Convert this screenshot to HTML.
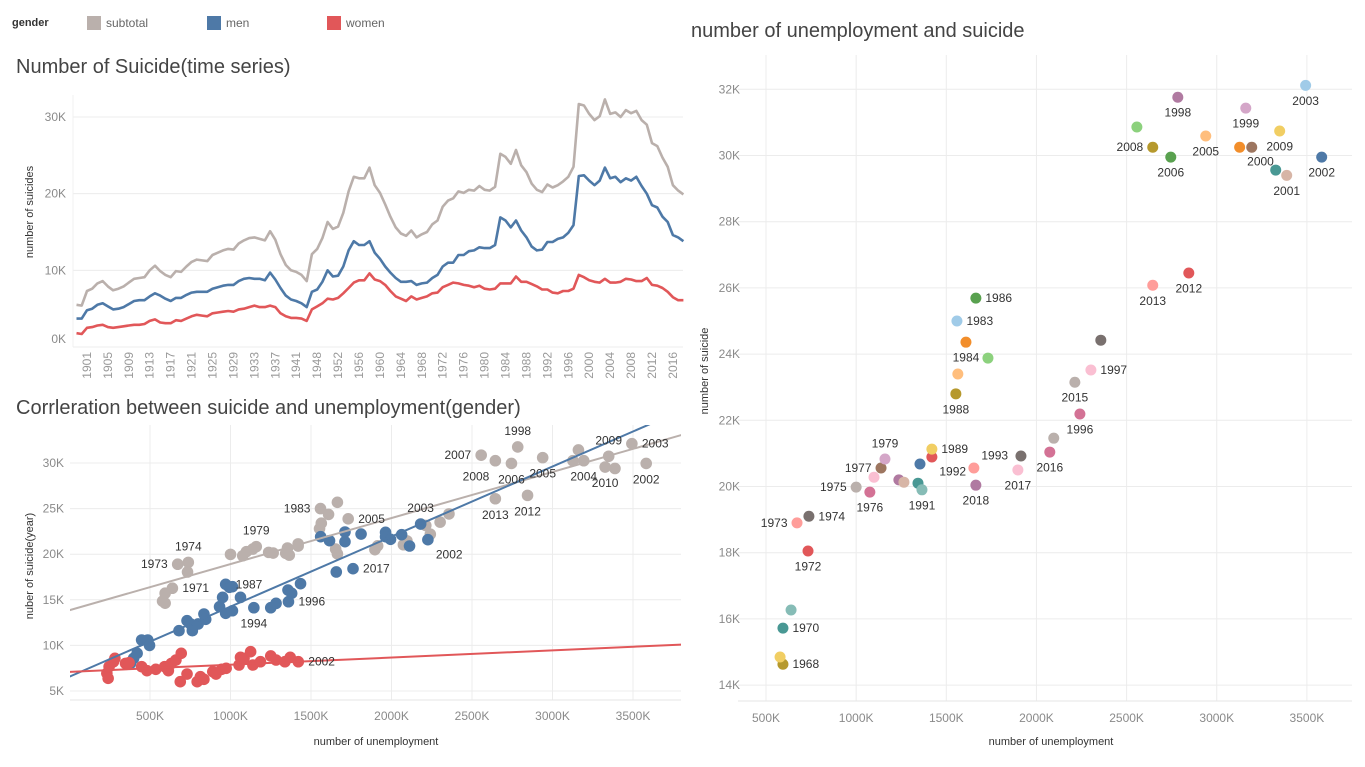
<!DOCTYPE html>
<html><head><meta charset="utf-8">
<style>
html,body{margin:0;padding:0;background:#fff;}
svg{display:block;font-family:"Liberation Sans",sans-serif;}
.tick{fill:#8a8a8a;font-size:11px;}
.grid{stroke:#ececec;stroke-width:1;}
.ttl{fill:#444;font-size:20px;}
.axt{fill:#333;font-size:11px;}
.lbl{fill:#333;font-size:12px;}
</style></head>
<body>
<svg id="root" width="1365" height="767" viewBox="0 0 1365 767">
  <g>
    <text x="12" y="26" style="font-size:11px;font-weight:bold;fill:#333">gender</text>
    <rect x="87" y="16" width="14" height="14" fill="#bab0ac"/>
    <text x="106" y="27" style="font-size:12px;fill:#666">subtotal</text>
    <rect x="207" y="16" width="14" height="14" fill="#4e79a7"/>
    <text x="226" y="27" style="font-size:12px;fill:#666">men</text>
    <rect x="327" y="16" width="14" height="14" fill="#e15759"/>
    <text x="346" y="27" style="font-size:12px;fill:#666">women</text>
  </g>
  <text class="ttl" x="16" y="73">Number of Suicide(time series)</text>
  <text class="ttl" x="16" y="414">Corrleration between suicide and unemployment(gender)</text>
  <text class="ttl" x="691" y="37">number of unemployment and suicide</text>
  <text class="axt" transform="translate(33,212) rotate(-90)" text-anchor="middle">number of suicides</text>
  <text class="axt" transform="translate(33,566) rotate(-90)" text-anchor="middle">nuber of suicide(year)</text>
  <text class="axt" x="376" y="745" text-anchor="middle">number of unemployment</text>
  <text class="axt" transform="translate(708,371) rotate(-90)" text-anchor="middle">number of suicide</text>
  <text class="axt" x="1051" y="745" text-anchor="middle">number of unemployment</text>
  <g id="ts"></g>
  <g id="corr"></g>
  <g id="sc"></g>
</svg>
<script>
// ---------- time series data ----------
const tsYears = [1899,1900,1901,1902,1903,1904,1905,1906,1907,1908,1909,1910,1911,1912,1913,1914,1915,1916,1917,1918,1919,1920,1921,1922,1923,1924,1925,1926,1927,1928,1929,1930,1931,1932,1933,1934,1935,1936,1937,1938,1939,1940,1941,1942,1943,
1947,1948,1949,1950,1951,1952,1953,1954,1955,1956,1957,1958,1959,1960,1961,1962,1963,1964,1965,1966,1967,1968,1969,1970,1971,1972,1973,1974,1975,1976,1977,1978,1979,1980,1981,1982,1983,1984,1985,1986,1987,1988,1989,1990,1991,1992,1993,1994,1995,1996,1997,1998,1999,2000,2001,2002,2003,2004,2005,2006,2007,2008,2009,2010,2011,2012,2013,2014,2015,2016,2017,2018];
const tsMen = [3.7,3.7,4.8,5.0,5.5,5.7,5.3,4.9,5.0,5.2, 5.6,6.0,6.1,6.1,6.6,7.0,6.7,6.3,6.0,6.4, 6.4,6.8,7.1,7.2,7.2,7.2,7.6,7.8,8.0,8.1, 8.1,8.6,8.9,9.0,8.9,8.9,8.7,9.7,8.8,7.7, 6.7,6.2,6.0,5.7,5.2,
7.2,7.5,8.5,10.0,9.2,9.3,10.5,12.6,13.8,13.3, 13.3,13.8,12.3,11.5,10.5,9.7,9.0,8.5,8.5,8.6, 8.1,8.3,8.4,9.0,9.4,10.5,11.0,11.0,12.0,12.0, 12.5,12.6,13.0,12.9,12.9,13.3,16.9,16.5,15.6,16.5, 15.2,14.3,13.1,12.6,12.7,13.7,13.7,14.1,14.3,14.9, 15.9,22.3,22.4,21.7,21.1,21.7,23.4,22.0,22.2,21.5, 22.0,21.7,22.2,21.0,20.0,18.5,18.2,17.0,16.3,14.6, 14.3,13.8];
const tsWomen = [1.8,1.7,2.5,2.6,2.8,2.9,2.6,2.5,2.6,2.7, 2.8,2.9,2.9,3.0,3.4,3.6,3.2,3.1,3.1,3.5, 3.4,3.7,4.0,4.2,4.1,4.0,4.4,4.5,4.6,4.7, 4.6,4.9,5.0,5.2,5.4,5.2,5.2,5.4,5.2,4.4, 4.0,3.8,3.8,3.7,3.4,
4.9,5.3,5.7,6.3,6.2,6.4,7.0,7.7,8.4,8.7, 8.7,9.6,8.8,8.6,8.1,7.3,6.6,6.3,6.0,6.6, 6.2,6.4,6.6,7.0,7.1,7.8,8.1,8.4,8.3,8.1, 8.0,7.8,8.0,7.6,7.5,7.6,8.3,8.3,8.3,9.2, 8.5,8.5,8.2,7.9,7.5,7.5,7.1,7.0,7.3,7.3, 7.6,9.4,9.1,8.7,8.5,8.4,8.9,8.4,8.4,8.5, 8.9,8.8,8.6,8.6,9.0,8.1,8.0,7.7,7.2,6.5, 6.1,6.1];
const tsTicks = [0,10,20,30];
const tsTickLabels = ["0K","10K","20K","30K"];

// ---------- correlation (gender) data: unemployment (K) and suicides (K) ----------
const menUnemp = [379,398,420,448,486,497,680,730,763,752,799,835,846,932,951,970,970,993,1012,1012,1062,1145,1250,1283,1357,1380,1360,1435,1560,1615,1657,1711,1711,1761,1811,1963,1963,1994,2063,2112,2181,2226];
const menSuic = [8.03,8.58,9.13,10.59,10.59,10.0,11.61,12.71,11.61,12.35,12.35,13.44,12.86,14.24,15.27,16.7,13.52,16.37,16.44,13.8,15.27,14.13,14.13,14.61,16.07,15.71,14.79,16.77,21.92,21.48,18.05,22.43,21.37,18.41,22.21,22.4,21.92,21.63,22.14,20.9,23.31,21.59];
const menLabels = [[15,"1987","r"],[26,"1996","r"],[21,"1994","b"],[33,"2017","r"],[40,"2003","a"],[41,"2002","br"]];
const womenUnemp = [232,240,246,273,282,348,370,448,481,536,591,614,633,661,694,688,730,793,813,835,890,910,945,973,1053,1062,1084,1125,1139,1186,1250,1283,1338,1371,1421];
const womenSuic = [6.94,6.39,7.67,8.21,8.58,8.03,8.1,7.67,7.23,7.38,7.67,7.23,8.03,8.4,9.13,6.02,6.86,6.02,6.57,6.28,7.12,6.86,7.38,7.49,7.85,8.69,8.58,9.31,7.85,8.21,8.84,8.4,8.21,8.69,8.21];
const womenLabels = [[34,"2002","r"]];

// ---------- subtotal (shared by both scatter charts) ----------
const subYears = [1968,1969,1970,1971,1972,1973,1974,1975,1976,1977,1978,1979,1980,1981,1982,1991,1992,1990,1989,1993,2018,1994,2017,2016,1995,1996,2015,1997,2014,1988,1987,1984,1985,1983,1986,2013,2012,1998,1999,2003,2007,2008,2006,2005,2000,2004,2009,2010,2001,2002];
const subUnemp = [594,578,594,639,733,672,738,1000,1076,1138,1099,1160,1237,1265,1343,1365,1354,1420,1420,1653,1664,1914,1897,2074,2096,2241,2213,2302,2357,1553,1564,1609,1731,1559,1664,2645,2845,2784,3161,3493,2557,2645,2745,2939,3127,3194,3349,3327,3388,3582];
const subSuic = [14.63,14.85,15.72,16.27,18.05,18.9,19.1,19.98,19.83,20.56,20.28,20.83,20.2,20.13,20.1,19.9,20.68,20.89,21.13,20.56,20.04,20.92,20.5,21.04,21.46,22.19,23.15,23.52,24.42,22.8,23.4,24.36,23.88,25.0,25.69,26.08,26.45,31.76,31.43,32.12,30.86,30.25,29.95,30.59,30.25,30.25,30.74,29.56,29.4,29.95];
const subColors = ["#b6992d","#f1ce63","#499894","#86bcb6","#e15759","#ff9d9a","#79706e","#bab0ac","#d37295","#9d7660","#fabfd2","#d4a6c8","#b07aa1","#d7b5a6","#499894","#86bcb6","#4e79a7","#e15759","#f1ce63","#ff9d9a","#b07aa1","#79706e","#fabfd2","#d37295","#bab0ac","#d37295","#bab0ac","#fabfd2","#79706e","#b6992d","#ffbe7d","#f28e2b","#8cd17d","#a0cbe8","#59a14f","#ff9d9a","#e15759","#b07aa1","#d4a6c8","#a0cbe8","#8cd17d","#b6992d","#59a14f","#ffbe7d","#f28e2b","#9d7660","#f1ce63","#499894","#d7b5a6","#4e79a7"];
const rightLabels = [[0,"1968","r"],[2,"1970","r"],[4,"1972","b"],[5,"1973","l"],[6,"1974","r"],[7,"1975","l"],[8,"1976","b"],[9,"1977","l"],[11,"1979","a"],[15,"1991","b"],[17,"1992","br"],[18,"1989","r"],[19,"1993","tr"],[20,"2018","b"],[22,"2017","b"],[23,"2016","b"],[25,"1996","b"],[26,"2015","b"],[27,"1997","r"],[29,"1988","b"],[31,"1984","b"],[33,"1983","r"],[34,"1986","r"],[35,"2013","b"],[36,"2012","b"],[37,"1998","b"],[38,"1999","b"],[39,"2003","b"],[41,"2008","l"],[42,"2006","b"],[43,"2005","b"],[44,"2000","br"],[46,"2009","b"],[48,"2001","b"],[49,"2002","b"]];
const leftSubLabels = [[5,"1973","l"],[6,"1974","a"],[3,"1971","r"],[11,"1979","a"],[33,"1983","l"],[32,"2005","r"],[40,"2007","l"],[37,"1998","a"],[41,"2008","bl"],[42,"2006","b"],[43,"2005","b"],[45,"2004","b"],[46,"2009","a"],[39,"2003","r"],[47,"2010","b"],[49,"2002","b"],[35,"2013","b"],[36,"2012","b"]];
const corrXTicks = [500,1000,1500,2000,2500,3000,3500];
const corrYTicks = [5,10,15,20,25,30];
const scXTicks = [500,1000,1500,2000,2500,3000,3500];
const scYTicks = [14,16,18,20,22,24,26,28,30,32];

const NS = "http://www.w3.org/2000/svg";
function mk(parent, tag, attrs, txt){
  const e = document.createElementNS(NS, tag);
  for (const k in attrs) e.setAttribute(k, attrs[k]);
  if (txt !== undefined) e.textContent = txt;
  parent.appendChild(e);
  return e;
}
function placeLabel(g, cx, cy, r, t, p, name){
  let x=cx, y=cy, a="middle";
  if (p==="r"){x=cx+r+4;y=cy+4;a="start";}
  else if (p==="l"){x=cx-r-4;y=cy+4;a="end";}
  else if (p==="b"){y=cy+r+14;}
  else if (p==="a"){y=cy-r-6;}
  else if (p==="br"){x=cx+r+2;y=cy+r+13;a="start";}
  else if (p==="bl"){x=cx-r;y=cy+r+14;a="end";}
  else if (p==="tr"){x=cx+r+2;y=cy-r-3;a="start";}
  const e = mk(g,"text",{x:x,y:y,"text-anchor":a,class:"lbl"},t);
  
  
}

// ===== time series =====
(function(){
  const g = document.getElementById("ts");
  const X0=76.5, STEP=5.232, Y0=347, KY=7.667;
  const xs = i => X0 + i*STEP;
  const ys = v => Y0 - v*KY;
  tsTicks.forEach((t,i)=>{
    const l = mk(g,"line",{x1:73,x2:683,y1:ys(t),y2:ys(t),class:"grid"});
    
    
    const tx = mk(g,"text",{x:66,y:Math.min(ys(t)+4,343),"text-anchor":"end",class:"tick",style:"font-size:12px"},tsTickLabels[i]);
    
    
  });
  const ax = mk(g,"line",{x1:73,x2:73,y1:95,y2:347,stroke:"#f0f0f0"});
  
  
  tsYears.forEach((yr,i)=>{
    if ((i-2)%4===0 && i>=2){
      const t = mk(g,"text",{transform:`translate(${xs(i)+4},352) rotate(-90)`,"text-anchor":"end",class:"tick",style:"font-size:12px;fill:#999"},String(yr));
      
      
    }
  });
  const series = [["subtotal", tsMen.map((m,i)=>m+tsWomen[i]), "#bab0ac"],["men", tsMen, "#4e79a7"],["women", tsWomen, "#e15759"]];
  series.forEach(s=>{
    const d = s[1].map((v,i)=>(i?"L":"M")+xs(i).toFixed(1)+","+ys(v).toFixed(1)).join("");
    const p = mk(g,"path",{d:d,fill:"none",stroke:s[2],"stroke-width":2.6,"stroke-linejoin":"round"});
    
    
  });
})();

function ols(xa, ya){
  const n=xa.length; let sx=0,sy=0,sxx=0,sxy=0;
  for(let i=0;i<n;i++){sx+=xa[i];sy+=ya[i];sxx+=xa[i]*xa[i];sxy+=xa[i]*ya[i];}
  const b=(n*sxy-sx*sy)/(n*sxx-sx*sx); return [(sy-b*sx)/n, b];
}

// ===== correlation chart =====
(function(){
  const g = document.getElementById("corr");
  const L=70,R=681,T=425,B=700;
  const xs = u => 69.5 + u*0.161;
  const ys = v => 463 + (30-v)*9.12;
  const defs = mk(g,"defs",{});
  const cp = mk(defs,"clipPath",{id:"corrclip"});
  mk(cp,"rect",{x:L,y:T,width:R-L,height:B-T});
  corrXTicks.forEach(t=>{
    const l = mk(g,"line",{x1:xs(t),x2:xs(t),y1:T,y2:B,class:"grid"});
    
    
    const tx = mk(g,"text",{x:xs(t),y:720,"text-anchor":"middle",class:"tick",style:"font-size:12px"},t+"K");
    
    
  });
  corrYTicks.forEach(t=>{
    const l = mk(g,"line",{x1:L,x2:R,y1:ys(t),y2:ys(t),class:"grid"});
    
    
    const tx = mk(g,"text",{x:64,y:ys(t)+4,"text-anchor":"end",class:"tick",style:"font-size:12px"},t+"K");
    
    
  });
  const bl = mk(g,"line",{x1:L,x2:R,y1:B,y2:B,stroke:"#e6e6e6"});
  
  
  const sets = [["subtotal",subUnemp,subSuic,"#bab0ac"],["men",menUnemp,menSuic,"#4e79a7"],["women",womenUnemp,womenSuic,"#e15759"]];
  sets.forEach(s=>{
    s[1].forEach((u,i)=>{
      const c = mk(g,"circle",{cx:xs(u),cy:ys(s[2][i]),r:5.8,fill:s[3]});
      
      
    });
  });
  sets.forEach(s=>{
    const ab = ols(s[1],s[2]);
    const l = mk(g,"line",{x1:xs(0),y1:ys(ab[0]),x2:xs(3800),y2:ys(ab[0]+ab[1]*3800),stroke:s[3],"stroke-width":2,"clip-path":"url(#corrclip)"});
    
    
  });
  leftSubLabels.forEach(a=>placeLabel(g,xs(subUnemp[a[0]]),ys(subSuic[a[0]]),6,a[1],a[2],'point-label-subtotal'));
  menLabels.forEach(a=>placeLabel(g,xs(menUnemp[a[0]]),ys(menSuic[a[0]]),6,a[1],a[2],'point-label-men'));
  womenLabels.forEach(a=>placeLabel(g,xs(womenUnemp[a[0]]),ys(womenSuic[a[0]]),6,a[1],a[2],'point-label-women'));
})();

// ===== scatter chart =====
(function(){
  const g = document.getElementById("sc");
  const L=738,R=1352,T=55,B=701;
  const xs = u => 766 + (u-500)*0.1803;
  const ys = v => 89.3 + (32-v)*33.1;
  scXTicks.forEach(t=>{
    const l = mk(g,"line",{x1:xs(t),x2:xs(t),y1:T,y2:B,class:"grid"});
    
    
    const tx = mk(g,"text",{x:xs(t),y:722,"text-anchor":"middle",class:"tick",style:"font-size:12px"},t+"K");
    
    
  });
  scYTicks.forEach(t=>{
    const l = mk(g,"line",{x1:L,x2:R,y1:ys(t),y2:ys(t),class:"grid"});
    
    
    const tx = mk(g,"text",{x:740,y:ys(t)+4,"text-anchor":"end",class:"tick",style:"font-size:12px"},t+"K");
    
    
  });
  const bl = mk(g,"line",{x1:L,x2:R,y1:B,y2:B,stroke:"#e6e6e6"});
  
  
  subUnemp.forEach((u,i)=>{
    const c = mk(g,"circle",{cx:xs(u),cy:ys(subSuic[i]),r:5.5,fill:subColors[i]});
    
    
  });
  rightLabels.forEach(a=>placeLabel(g,xs(subUnemp[a[0]]),ys(subSuic[a[0]]),5.5,a[1],a[2],'point-label'));
})();
</script>
</body></html>
